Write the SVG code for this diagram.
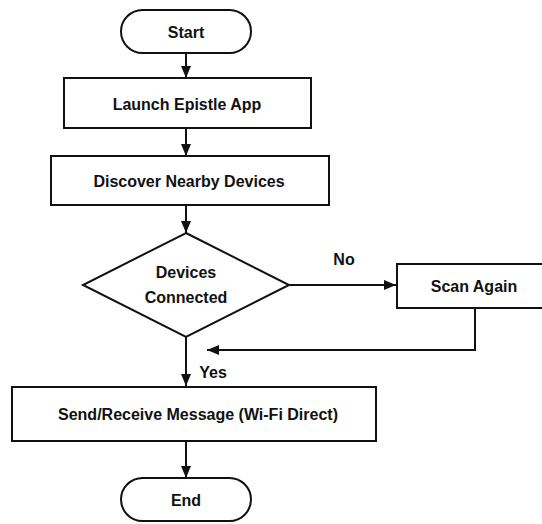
<svg xmlns="http://www.w3.org/2000/svg" width="542" height="524" viewBox="0 0 542 524">
  <defs>
    <marker id="arrow" viewBox="0 0 12 10" refX="12" refY="5" markerWidth="12" markerHeight="10" markerUnits="userSpaceOnUse" orient="auto">
      <path d="M0,0 L12,5 L0,10 Z" fill="#111"/>
    </marker>
    <style>
      .shape { fill: #fff; stroke: #111; stroke-width: 2; }
      .edge { fill: none; stroke: #111; stroke-width: 2; marker-end: url(#arrow); }
      .label { font-family: "Liberation Sans", Arial, sans-serif; font-weight: bold; font-size: 16px; fill: #111; text-anchor: middle; dominant-baseline: central; }
    </style>
  </defs>
  <rect width="542" height="524" fill="#fff"/>

  <g id="connectors">
    <line class="edge" x1="186" y1="53" x2="186" y2="78"/>
    <line class="edge" x1="186" y1="128" x2="186" y2="156"/>
    <line class="edge" x1="186" y1="205" x2="186" y2="233"/>
    <line class="edge" x1="289" y1="285" x2="396" y2="285"/>
    <polyline class="edge" points="475,308 475,350 207,350"/>
    <line class="edge" x1="186" y1="337" x2="186" y2="386"/>
    <line class="edge" x1="186" y1="441" x2="186" y2="478"/>
    <text class="label" x="344" y="259">No</text>
    <text class="label" x="213" y="372">Yes</text>
  </g>

  <g id="start">
    <rect class="shape" x="121" y="10" width="130" height="43" rx="21.5"/>
    <text class="label" x="186" y="32">Start</text>
  </g>

  <g id="launch">
    <rect class="shape" x="64" y="78" width="247" height="50"/>
    <text class="label" x="187" y="104">Launch Epistle App</text>
  </g>

  <g id="discover">
    <rect class="shape" x="51" y="156" width="278" height="49"/>
    <text class="label" x="189" y="181">Discover Nearby Devices</text>
  </g>

  <g id="decision">
    <polygon class="shape" points="186,233 289,285 186,337 83,285"/>
    <text class="label" x="186" y="272">Devices</text>
    <text class="label" x="186" y="297">Connected</text>
  </g>

  <g id="scan">
    <rect class="shape" x="397" y="264" width="154" height="44"/>
    <text class="label" x="474" y="286">Scan Again</text>
  </g>

  <g id="send">
    <rect class="shape" x="12" y="387" width="364" height="54"/>
    <text class="label" x="198" y="414">Send/Receive Message (Wi-Fi Direct)</text>
  </g>

  <g id="end">
    <rect class="shape" x="121" y="478" width="130" height="43" rx="21.5"/>
    <text class="label" x="186" y="500">End</text>
  </g>
</svg>
